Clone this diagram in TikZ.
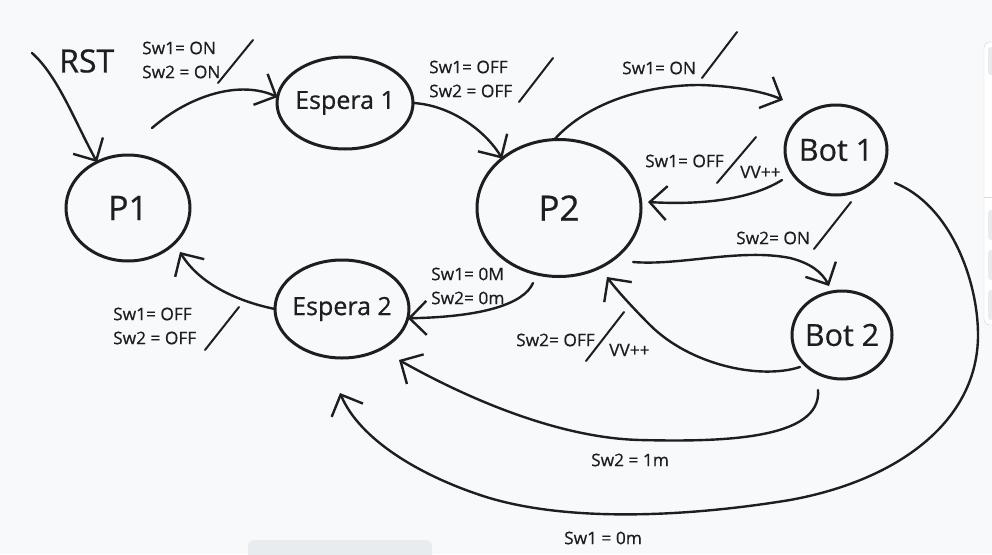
\documentclass[tikz,border=0pt]{standalone}
\usepackage{fontspec}
\setmainfont{Open Sans}[FakeBold=0.6]
\usetikzlibrary{arrows.meta,shapes.geometric}
\definecolor{bg}{HTML}{F8F9FB}
\definecolor{ink}{HTML}{1E1E1E}
\definecolor{uigray}{HTML}{E9ECEF}
\begin{document}
\begin{tikzpicture}[x=1pt,y=-1pt,
  state/.style={ellipse, draw=ink, line width=3pt, inner sep=0pt, outer sep=0pt, text=ink},
  conn/.style={draw=ink, line width=2.4pt, line cap=round, line join=round,
    -{Straight Barb[length=17pt,width=34pt]}},
  slash/.style={draw=ink, line width=2pt, line cap=round},
  lbl/.style={font=\fontsize{17.3}{24}\selectfont, text=ink, inner sep=0pt, anchor=west, align=left}]
\path[use as bounding box] (0,0) rectangle (992,554);
\clip (0,0) rectangle (992,554);
\fill[bg] (0,0) rectangle (992,554);
% screenshot UI remnants
\filldraw[fill=white, draw=gray!35, rounded corners=6pt] (984,42) rectangle (1010,325);
\draw[gray!30] (984,197) -- (992,197);
\foreach \ya/\yb in {47/75,210/240,250/280,290/320}
  \fill[uigray, rounded corners=3pt] (988,\ya) rectangle (1005,\yb);
\fill[uigray, rounded corners=6pt] (248,540) rectangle (432,570);

% states
\node[state, minimum width=124pt, minimum height=106pt, font=\fontsize{34}{40}\selectfont] (P1) at (128,208) {\makebox[0pt]{P1}};
\node[state, minimum width=136pt, minimum height=92pt, font=\fontsize{25}{30}\selectfont] (E1) at (345,103) {\makebox[0pt]{Espera 1}};
\node[state, minimum width=164pt, minimum height=137pt, font=\fontsize{35}{42}\selectfont] (P2) at (559,208) {\makebox[0pt]{P2}};
\node[state, minimum width=102pt, minimum height=90pt, font=\fontsize{30.5}{36}\selectfont] (B1) at (836,150) {\makebox[0pt]{Bot 1}};
\node[state, minimum width=100pt, minimum height=88pt, font=\fontsize{30.5}{36}\selectfont] (B2) at (842,335) {\makebox[0pt]{Bot 2}};
\node[state, minimum width=134pt, minimum height=98pt, font=\fontsize{25}{30}\selectfont] (E2) at (342,309) {\makebox[0pt]{Espera 2}};

% free connector ends
\coordinate (rsts) at (32,53);
\coordinate (p1tr) at (152,128);
\coordinate (b1in) at (783,100);
\coordinate (b1out) at (782,180);
\coordinate (p2r) at (648,202);
\coordinate (p2br) at (633,262);
\coordinate (b2in) at (829,286);
\coordinate (b2l) at (800,367);
\coordinate (p2b) at (607,277);
\coordinate (p2bl) at (533,283);
\coordinate (p1br) at (180,252);
\coordinate (b2b) at (818,390);
\coordinate (e2br) at (399,360);
\coordinate (b1r) at (895,183);
\coordinate (e2b) at (340,393);

% connectors
\draw[conn] (rsts) .. controls (58,76) and (75,122) .. (P1.124);
\draw[conn] (p1tr) .. controls (190,95) and (240,80) .. (E1.175);
\draw[conn] (E1.east) .. controls (450,105) and (485,130) .. (P2.139);
\draw[conn] (P2.94) .. controls (590,100) and (650,85) .. (700,85) .. controls (735,86) and (765,92) .. (b1in);
\draw[conn] (b1out) .. controls (750,200) and (700,205) .. (p2r);
\draw[conn] (p2br) .. controls (680,266) and (740,248) .. (790,258) .. controls (810,263) and (822,272) .. (b2in);
\draw[conn] (b2l) .. controls (760,380) and (690,365) .. (650,325) .. controls (630,305) and (615,288) .. (p2b);
\draw[conn] (p2bl) .. controls (524,304) and (482,317) .. (E2.352);
\draw[conn] (E2.west) .. controls (240,302) and (200,285) .. (p1br);
\draw[conn] (b2b) .. controls (822,440) and (720,442) .. (640,440) .. controls (560,438) and (470,400) .. (e2br);
\draw[conn] (b1r) .. controls (950,205) and (978,280) .. (978,335) .. controls (978,420) and (900,480) .. (790,500) .. controls (680,518) and (560,522) .. (480,495) .. controls (420,475) and (360,440) .. (e2b);

% labels
\node[lbl, font=\fontsize{32}{36}\selectfont] (rst) at (59,61) {RST};
\node[lbl] (l1) at (142,60) {Sw1= ON\\Sw2 = ON};
\node[lbl] (l2) at (429,79) {Sw1= OFF\\Sw2 = OFF};
\node[lbl] (l3) at (622,68) {Sw1= ON};
\node[lbl] (l4) at (645,161) {Sw1= OFF};
\node[lbl] (l4b) at (740,172) {VV++};
\node[lbl] (l5) at (736,238) {Sw2= ON};
\node[lbl] (l6) at (431,286) {Sw1= 0M\\Sw2= 0m};
\node[lbl] (l7) at (516,340) {Sw2= OFF};
\node[lbl] (l7b) at (609,350) {VV++};
\node[lbl] (l8) at (113,326) {Sw1= OFF\\Sw2 = OFF};
\node[lbl] (l9) at (591,460) {Sw2 = 1m};
\node[lbl] (l10) at (564,538) {Sw1 = 0m};

% slashes
\draw[slash] (253,40) -- (218,83);
\draw[slash] (553,58) -- (519,102);
\draw[slash] (737,32) -- (702,78);
\draw[slash] (756,137) -- (717,183);
\draw[slash] (851,202) -- (814,249);
\draw[slash] (624,312) -- (586,361);
\draw[slash] (239,307) -- (205,350);
\end{tikzpicture}
\end{document}
